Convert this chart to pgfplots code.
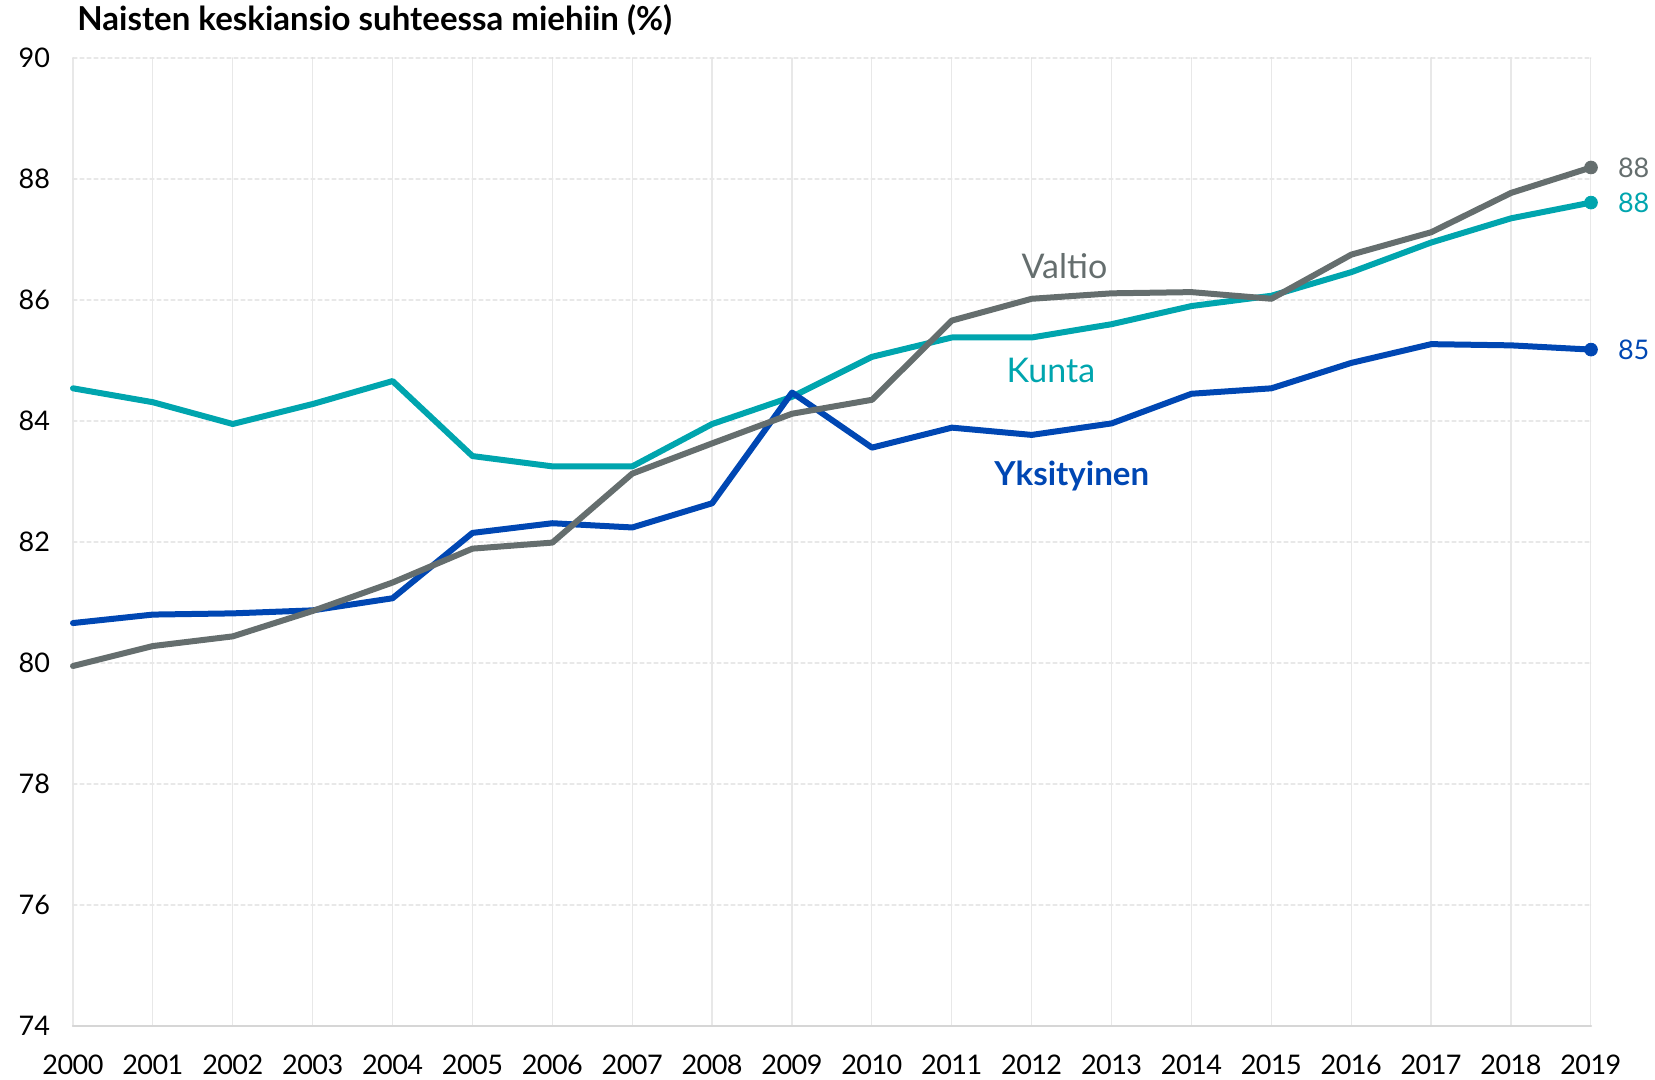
\documentclass[border=0pt]{standalone}
\usepackage{pgfplots}
\pgfplotsset{compat=1.18}
\usepackage{fontspec}
\setmainfont{Lato}
\definecolor{cteal}{HTML}{00A5AE}
\definecolor{cgray}{HTML}{656E6E}
\definecolor{cblue}{HTML}{0047B3}
\definecolor{cgrid}{HTML}{E8E8E8}
\definecolor{caxis}{HTML}{D6D6D6}
\begin{document}
\begin{tikzpicture}
\useasboundingbox (-36.5pt,-27pt) rectangle (791pt,513pt);
\begin{axis}[
  at={(0,0)}, anchor=south west,
  scale only axis, width=759pt, height=484pt,
  xmin=2000, xmax=2019, ymin=74, ymax=90,
  xtick={2000,...,2019}, ytick={74,76,...,90},
  xticklabel style={/pgf/number format/1000 sep={}, font=\fontsize{13.5}{15}\selectfont\addfontfeatures{LetterSpace=-2}, yshift=-11pt},
  yticklabel style={font=\fontsize{13.5}{15}\selectfont, xshift=-8pt},
  /pgf/number format/assume math mode=true,
  major tick length=0pt,
  axis line style={draw=none},
  xmajorgrids, ymajorgrids,
  x grid style={cgrid, line width=0.6pt},
  y grid style={cgrid, line width=0.6pt, dash pattern=on 2pt off 1.5pt},
  clip=false,
  line join=round, line cap=round,
]
\draw[caxis, line width=1.2pt] (axis cs:2000,74) -- (axis cs:2019,74);
\addplot[cteal, line width=3pt] coordinates {
(2000,84.54)(2001,84.31)(2002,83.95)(2003,84.28)(2004,84.66)(2005,83.42)(2006,83.25)(2007,83.25)(2008,83.95)(2009,84.40)(2010,85.06)(2011,85.38)(2012,85.38)(2013,85.60)(2014,85.90)(2015,86.07)(2016,86.46)(2017,86.95)(2018,87.35)(2019,87.61)};
\addplot[cblue, line width=3pt] coordinates {
(2000,80.66)(2001,80.80)(2002,80.82)(2003,80.87)(2004,81.07)(2005,82.15)(2006,82.31)(2007,82.24)(2008,82.64)(2009,84.47)(2010,83.56)(2011,83.89)(2012,83.77)(2013,83.96)(2014,84.45)(2015,84.54)(2016,84.96)(2017,85.27)(2018,85.25)(2019,85.18)};
\addplot[cgray, line width=3pt] coordinates {
(2000,79.95)(2001,80.28)(2002,80.44)(2003,80.86)(2004,81.33)(2005,81.89)(2006,81.99)(2007,83.13)(2008,83.63)(2009,84.12)(2010,84.35)(2011,85.66)(2012,86.02)(2013,86.11)(2014,86.13)(2015,86.02)(2016,86.75)(2017,87.12)(2018,87.77)(2019,88.19)};
\addplot[cgray, only marks, mark=*, mark size=3.2pt] coordinates {(2019,88.19)};
\addplot[cteal, only marks, mark=*, mark size=3.2pt] coordinates {(2019,87.61)};
\addplot[cblue, only marks, mark=*, mark size=3.2pt] coordinates {(2019,85.18)};
\node[anchor=west, text=cgray, font=\fontsize{13.5}{15}\selectfont, xshift=10pt] at (axis cs:2019,88.19) {88};
\node[anchor=west, text=cteal, font=\fontsize{13.5}{15}\selectfont, xshift=10pt] at (axis cs:2019,87.61) {88};
\node[anchor=west, text=cblue, font=\fontsize{13.5}{15}\selectfont, xshift=10pt] at (axis cs:2019,85.18) {85};
\node[text=cgray, font=\fontsize{17}{19}\selectfont] at (axis cs:2012.41,86.56) {Valtio};
\node[text=cteal, font=\fontsize{17}{19}\selectfont] at (axis cs:2012.24,84.84) {Kunta};
\node[text=cblue, font=\bfseries\fontsize{16.5}{18}\selectfont] at (axis cs:2012.50,83.09) {Yksityinen};
\node[anchor=base west, font=\bfseries\fontsize{16.5}{18}\selectfont, inner sep=0pt] at (2pt,497.5pt) {Naisten keskiansio suhteessa miehiin (\%)};
\end{axis}
\end{tikzpicture}
\end{document}
